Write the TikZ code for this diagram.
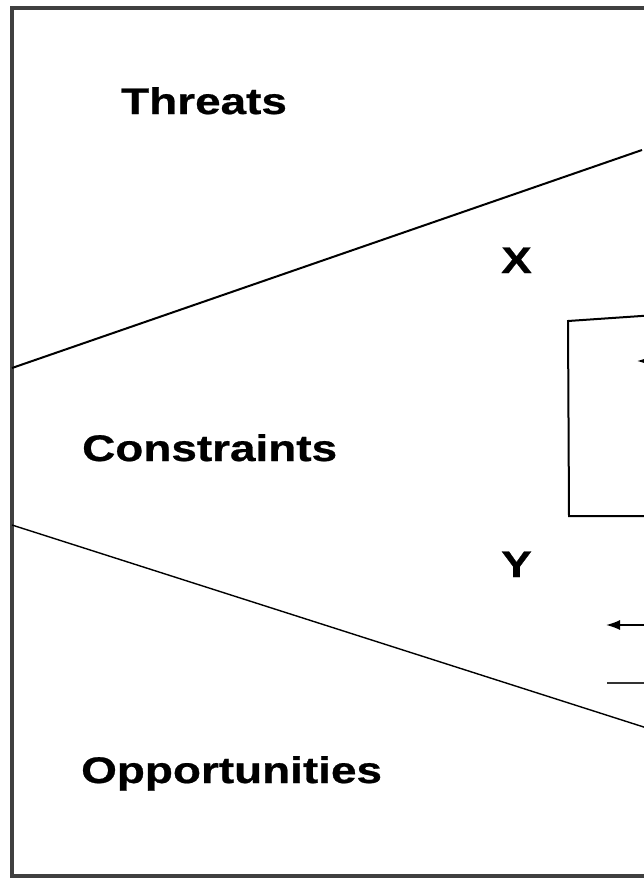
\documentclass[tikz,border=0pt]{standalone}
\usepackage{fontspec}
\setmainfont{Liberation Sans}[BoldFeatures={FakeBold=0.6}]
\usetikzlibrary{arrows.meta}
\begin{document}
\begin{tikzpicture}[x=1pt,y=-1pt,
  label/.style={inner sep=0pt, anchor=base west, font=\fontsize{37}{40}\selectfont\bfseries},
  frame/.style={draw=black!75, line width=3.5pt},
  divider/.style={draw=black, line width=2pt},
  thin divider/.style={draw=black, line width=1.4pt},
  arrowline/.style={draw=black, line width=1.6pt, -{Latex[length=14pt,width=10pt]}},
  plainline/.style={draw=black!80, line width=1.6pt}]
\useasboundingbox (0,0) rectangle (644,879);
\begin{scope}
\clip (0,0) rectangle (644,879);
% outer frame (continues past the right edge)
\draw[frame] (12,8) rectangle (700,876);
% sector boundaries
\coordinate (uL) at (12,368);
\coordinate (uR) at (642,150);
\coordinate (lL) at (12,525);
\coordinate (lR) at (700,745);
\draw[divider] (uL) -- (uR);
\draw[thin divider] (lL) -- (lR);
% central box
\coordinate (bTR) at (700,312);
\coordinate (bTL) at (568,321);
\coordinate (bBL) at (569,516);
\coordinate (bBR) at (700,516);
\draw[line width=2pt] (bTR) -- (bTL) -- (bBL) -- (bBR);
% arrows
\coordinate (a1s) at (700,361);
\coordinate (a1e) at (637,361);
\draw[arrowline] (a1s) -- (a1e);
\coordinate (a2s) at (700,625);
\coordinate (a2e) at (606,625);
\draw[arrowline] (a2s) -- (a2e);
\coordinate (l3s) at (700,683);
\coordinate (l3e) at (607,683);
\draw[plainline] (l3s) -- (l3e);
\end{scope}
% labels
\node[label] (threats) at (121,114) {\scalebox{1.24}[1]{Threats}};
\node[label] (constraints) at (82,461) {\scalebox{1.24}[1]{Constraints}};
\node[label] (opps) at (81,783) {\scalebox{1.24}[1]{Opportunities}};
\node[label] (x) at (501,273) {\scalebox{1.24}[1]{X}};
\node[label] (y) at (501,577) {\scalebox{1.24}[1]{Y}};
\end{tikzpicture}
\end{document}
